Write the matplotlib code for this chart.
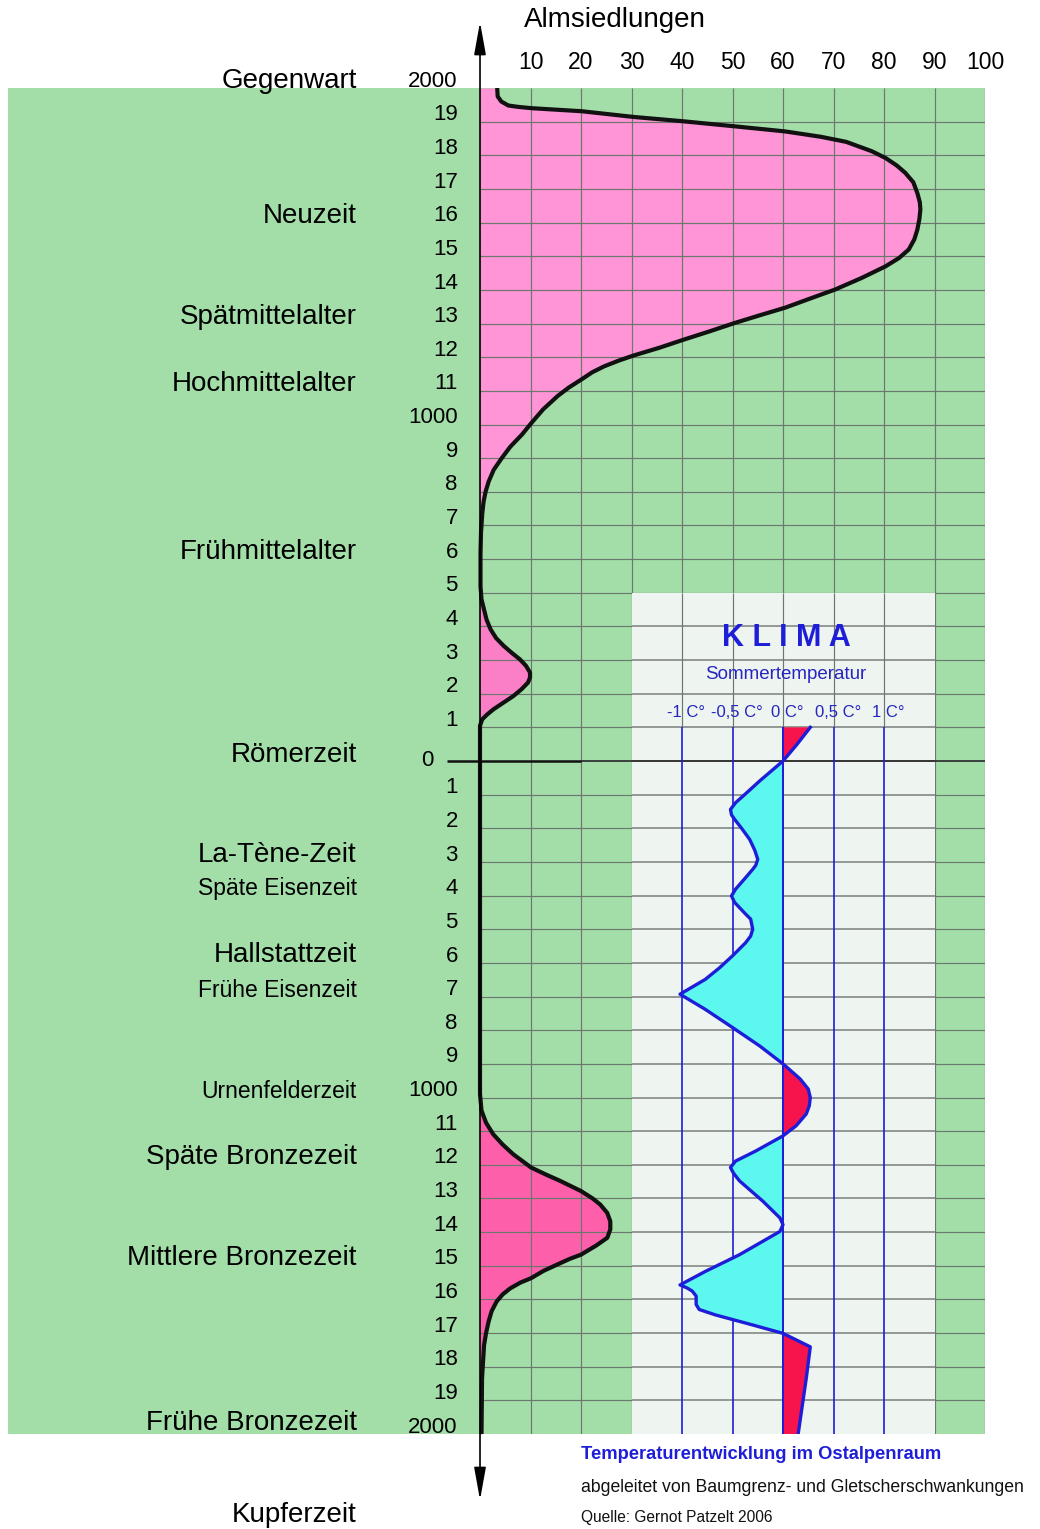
import matplotlib
matplotlib.use('Agg')
import matplotlib.pyplot as plt
import numpy as np

# ---------------- data ----------------
alm_years = [2000, 1975, 1960, 1948, 1944, 1940, 1931, 1914, 1901, 1886, 1871, 1855, 1840,
             1812, 1792, 1770, 1748, 1720, 1688, 1660, 1639, 1610, 1579, 1550, 1520,
             1495, 1470, 1435, 1401, 1375, 1347, 1325, 1302, 1277, 1252, 1228, 1205,
             1190, 1173, 1155, 1134, 1110, 1085, 1045, 1005, 970, 934, 900, 865, 830,
             800, 770, 736, 680, 618, 519, 480, 450, 420, 391, 365, 342, 320, 302, 283,
             263, 248, 233, 213, 193, 173, 154, 138, 124, 105, 0, -500, -990, -1039,
             -1075, -1109, -1140, -1169, -1190, -1208, -1230, -1248, -1278, -1300,
             -1318, -1343, -1368, -1392, -1417, -1440, -1467, -1480, -1497, -1515,
             -1537, -1550, -1567, -1585, -1606, -1635, -1666, -1700, -1736, -1835, -2000]
alm_values = [3.4, 3.5, 4.2, 5.6, 7.5, 10.2, 20.1, 30.4, 40.3, 50.5, 60.4, 67.5, 72.5,
              77.6, 80.3, 82.5, 84.2, 85.8, 86.6, 87.1, 87.2, 87.0, 86.6, 86.0, 84.9,
              83.0, 80.3, 75.5, 70.3, 65.5, 60.4, 55.5, 50.5, 45.5, 40.3, 35.5, 30.4,
              27.5, 24.6, 22.2, 20.1, 17.6, 15.4, 12.5, 10.2, 8.3, 6.0, 4.3, 2.7, 1.7,
              1.1, 0.7, 0.45, 0.2, 0.1, 0.1, 0.3, 0.8, 1.3, 2.1, 3.2, 4.7, 6.4, 7.9, 9.1,
              9.9, 9.9, 9.5, 8.2, 6.6, 4.6, 2.7, 1.4, 0.45, 0.0, 0.0, 0.0, 0.0, 0.3,
              1.2, 2.6, 4.5, 6.6, 8.5, 10.1, 13.2, 15.9, 20.0, 22.3,
              23.8, 25.2, 25.8, 25.8, 25.2, 23.0, 20.0, 17.7, 15.2, 12.6,
              10.1, 8.0, 6.0, 4.5, 3.3, 2.3, 1.7, 1.2, 0.8, 0.4, 0.3]

temp_years = [100, 50, 0, -59, -100, -124, -144, -160, -173, -200, -233, -265, -292,
              -310, -322, -350, -381, -401, -420, -436, -455, -470, -500, -520, -540,
              -579, -615, -649, -693, -738, -792, -847, -900, -945, -975, -1000, -1025,
              -1049, -1084, -1114, -1159, -1189, -1208, -1225, -1248, -1308, -1358,
              -1378, -1398, -1467, -1517, -1557, -1566, -1575, -1590, -1615, -1630,
              -1646, -1676, -1701, -1741, -1835, -2000]
temp_values = [0.27, 0.14, 0.0, -0.23, -0.38, -0.47, -0.52, -0.51, -0.48, -0.41, -0.33,
               -0.28, -0.25, -0.27, -0.30, -0.38, -0.47, -0.51, -0.48, -0.43, -0.37,
               -0.32, -0.30, -0.32, -0.37, -0.50, -0.63, -0.77, -1.02, -0.77, -0.50,
               -0.23, 0.0, 0.17, 0.25, 0.27, 0.26, 0.23, 0.13, 0.0, -0.27, -0.47, -0.52,
               -0.49, -0.43, -0.20, -0.03, 0.0, -0.03, -0.43, -0.77, -1.02, -0.95, -0.90,
               -0.86, -0.86, -0.83, -0.67, -0.30, 0.0, 0.27, 0.23, 0.15]

x_ticks = [10, 20, 30, 40, 50, 60, 70, 80, 90, 100]
century_years = [2000, 1900, 1800, 1700, 1600, 1500, 1400, 1300, 1200, 1100, 1000,
                 900, 800, 700, 600, 500, 400, 300, 200, 100, 0,
                 -100, -200, -300, -400, -500, -600, -700, -800, -900, -1000,
                 -1100, -1200, -1300, -1400, -1500, -1600, -1700, -1800, -1900, -2000]
century_labels = ['2000', '19', '18', '17', '16', '15', '14', '13', '12', '11', '1000',
                  '9', '8', '7', '6', '5', '4', '3', '2', '1', '0',
                  '1', '2', '3', '4', '5', '6', '7', '8', '9', '1000',
                  '11', '12', '13', '14', '15', '16', '17', '18', '19', '2000']
period_labels = ['Gegenwart', 'Neuzeit', 'Spätmittelalter', 'Hochmittelalter',
                 'Frühmittelalter', 'Römerzeit', 'La-Tène-Zeit', 'Späte Eisenzeit',
                 'Hallstattzeit', 'Frühe Eisenzeit', 'Urnenfelderzeit',
                 'Späte Bronzezeit', 'Mittlere Bronzezeit', 'Frühe Bronzezeit',
                 'Kupferzeit']
period_years = [2020, 1620, 1320, 1121, 622, 19, -278, -380, -578, -681, -981,
                -1176, -1476, -1968, -2240]
period_small = ['Späte Eisenzeit', 'Frühe Eisenzeit', 'Urnenfelderzeit']

temp_tick_values = [-1, -0.5, 0, 0.5, 1]
temp_tick_labels = ['-1 C°', '-0,5 C°', '0 C°', '0,5 C°', '1 C°']

# ---------------- style ----------------
GREEN = '#a3dea9'
PANEL = '#eef4ef'
GRID = '#6c786e'
PINK_HI = '#ff94d6'
PINK_MID = '#fb7fc6'
PINK_LO = '#fd5fab'
RED = '#f7134b'
CYAN = '#5cf8f0'
BLUE = '#1e1ed8'
SANS = ['Liberation Sans', 'DejaVu Sans']
NARROW = ['Liberation Sans', 'DejaVu Sans']

fig = plt.figure(figsize=(10.4, 15.29), dpi=100)
fig.patch.set_facecolor('white')
W, H = 1040, 1529
ax = fig.add_axes([8 / W, 1 - 1434 / H, 977 / W, 1346 / H])
ax.set_xlim(-93.47, 100)
ax.set_ylim(-2000, 2000)
ax.set_facecolor(GREEN)
for s in ax.spines.values():
    s.set_visible(False)
ax.set_yticks([])
ax.xaxis.tick_top()
ax.set_xticks(x_ticks)
ax.set_xticklabels([str(v) for v in x_ticks], fontsize=16.5, family=SANS)
ax.tick_params(axis='x', length=0, pad=10)

ya = np.array(alm_years, float)
va = np.array(alm_values, float)

# pink fills
ax.fill_betweenx(ya, 0, va, where=ya >= 480, color=PINK_HI, lw=0, zorder=0.6)
ax.fill_betweenx(ya, 0, va, where=(ya <= 520) & (ya >= 0), color=PINK_MID, lw=0, zorder=0.6)
ax.fill_betweenx(ya, 0, va, where=ya <= 0, color=PINK_LO, lw=0, zorder=0.6)

# grid
hy = [y for y in century_years if y not in (2000, -2000, 0)]
ax.hlines(hy, 0, 100, colors=GRID, lw=0.85, zorder=1)
ax.vlines(x_ticks, -2000, 2000, colors=GRID, lw=0.85, zorder=1)
ax.hlines([0], 20, 100, colors='#333333', lw=1.3, zorder=1)

# klima panel (inset axes in temperature units)
ax2 = ax.inset_axes([30, -2000, 60, 2500], transform=ax.transData, zorder=2)
ax2.set_xlim(-1.5, 1.5)
ax2.set_ylim(-2000, 500)
ax2.set_facecolor(PANEL)
for s in ax2.spines.values():
    s.set_visible(False)
ax2.set_xticks([])
ax2.set_yticks([])
hy2 = [y for y in century_years if -2000 < y < 500 and y != 0]
ax2.hlines(hy2, -1.5, 1.5, colors='#7a7f7b', lw=1.1, zorder=1)
ax2.hlines([0], -1.5, 1.5, colors='#333333', lw=1.4, zorder=1)
ax2.vlines(temp_tick_values, 100, 500, colors=GRID, lw=0.85, zorder=1)
ax2.vlines(temp_tick_values, -2000, 100, colors=BLUE, lw=1.2, zorder=1.5)

ty = np.array(temp_years, float)
tv = np.array(temp_values, float)
ax2.fill_betweenx(ty, 0, tv, where=tv >= 0, interpolate=True, color=RED, lw=0, zorder=2)
ax2.fill_betweenx(ty, 0, tv, where=tv <= 0, interpolate=True, color=CYAN, lw=0, zorder=2)
ax2.vlines([0], -2000, 100, colors=BLUE, lw=1.4, zorder=2.5)
ax2.plot(tv, ty, color=BLUE, lw=2.4, zorder=3, solid_joinstyle='round')

ax2.text(0.03, 365, 'K L I M A', ha='center', va='center', fontsize=22,
         fontweight='bold', color=BLUE, family=SANS, zorder=4)
ax2.text(0.03, 256, 'Sommertemperatur', ha='center', va='center', fontsize=13.5,
         color='#2525c0', family=NARROW, zorder=4)
for v, lab in zip(temp_tick_values, temp_tick_labels):
    ax2.annotate(lab, xy=(v, 143), xytext=(3, 0), textcoords='offset points',
                 ha='center', va='center', fontsize=12, color='#2525c0',
                 family=NARROW, zorder=4)

# main curve
ax.plot(va, ya, color='#111111', lw=3.0, zorder=3, solid_capstyle='butt',
        solid_joinstyle='round')

# zero line left part
ax.hlines([0], -6.5, 20, colors='#111111', lw=1.8, zorder=3)

# vertical axis with arrows
ax.annotate('', xy=(0, 2196), xytext=(0, -2196),
            arrowprops=dict(arrowstyle='<|-|>,head_length=1.0,head_width=0.18',
                            color='black', lw=1.2, mutation_scale=20,
                            shrinkA=0, shrinkB=0),
            annotation_clip=False, zorder=5)

# year labels
for y, lab in zip(century_years, century_labels):
    if y == 0:
        ax.text(-9.3, y, lab, ha='right', va='center', fontsize=16, family=SANS,
                clip_on=False)
    else:
        ax.annotate(lab, xy=(-4.4, y), xytext=(0, 1), textcoords='offset points',
                    ha='right', va='baseline', fontsize=16, family=SANS,
                    annotation_clip=False)

# period labels
for lab, y in zip(period_labels, period_years):
    fs = 16.5 if lab in period_small else 20
    ax.text(-24.4, y, lab, ha='right', va='center', fontsize=fs, family=SANS,
            clip_on=False)

# axis title
ax.text(26.7, 2202, 'Almsiedlungen', ha='center', va='center', fontsize=20,
        family=SANS, clip_on=False)

# footnotes
ax.text(20, -2062, 'Temperaturentwicklung im Ostalpenraum', ha='left', va='center',
        fontsize=13.2, fontweight='bold', color=BLUE, family=NARROW, clip_on=False)
ax.text(20, -2160, 'abgeleitet von Baumgrenz- und Gletscherschwankungen', ha='left',
        va='center', fontsize=12.7, color='#111111', family=NARROW, clip_on=False)
ax.text(20, -2247, 'Quelle: Gernot Patzelt 2006', ha='left', va='center',
        fontsize=11.2, color='#111111', family=NARROW, clip_on=False)

fig.savefig('out.png', dpi=100, facecolor='white')
